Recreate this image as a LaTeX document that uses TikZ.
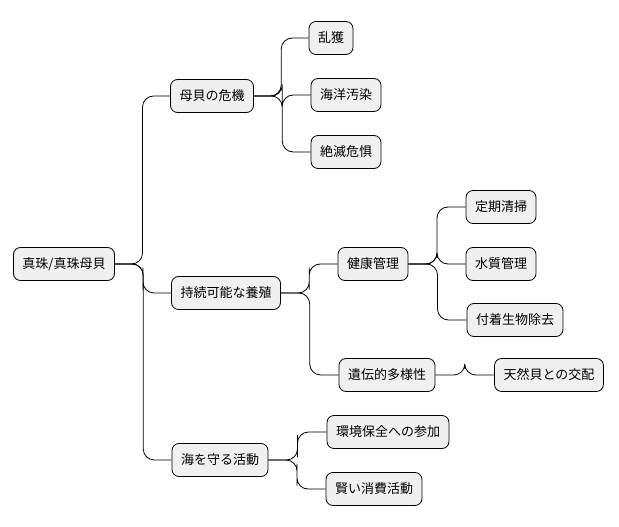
\documentclass[tikz,border=0pt]{standalone}
\usepackage{fontspec}
\newfontfamily\cjk{Noto Sans CJK JP}
\usetikzlibrary{calc}
\begin{document}
\begin{tikzpicture}[x=1pt,y=-1pt,
  mm/.style={draw=black,fill=black!6,rounded corners=7pt,line width=0.8pt,
    font=\cjk\fontsize{13}{15}\selectfont,minimum height=33pt,inner xsep=9pt,anchor=center},
  conn/.style={line width=0.8pt,rounded corners=11pt}]
\useasboundingbox (0,0) rectangle (619,527);
\node[mm] (r) at (64,264) {真珠/真珠母貝};
\node[mm] (a) at (212,96) {母貝の危機};
\node[mm] (b) at (226,293) {持続可能な養殖};
\node[mm] (c) at (220,460) {海を守る活動};
\node[mm] (a1) at (331,38) {乱獲};
\node[mm] (a2) at (346,95) {海洋汚染};
\node[mm] (a3) at (346,152) {絶滅危惧};
\node[mm] (b1) at (373,264) {健康管理};
\node[mm] (b2) at (387,375) {遺伝的多様性};
\node[mm] (b11) at (501,207) {定期清掃};
\node[mm] (b12) at (501,264) {水質管理};
\node[mm] (b13) at (515,320) {付着生物除去};
\node[mm] (b21) at (549,375) {天然貝との交配};
\node[mm] (c1) at (388,432) {環境保全への参加};
\node[mm] (c2) at (374,489) {賢い消費活動};
\foreach \p/\q in {r/a,r/b,r/c,a/a1,a/a2,a/a3,b/b1,b/b2,b1/b11,b1/b12,b1/b13,b2/b21,c/c1,c/c2}
  \draw[conn] (\p.east) -| ($(\p.east)!.5!(\q.west)$) |- (\q.west);
\end{tikzpicture}
\end{document}
